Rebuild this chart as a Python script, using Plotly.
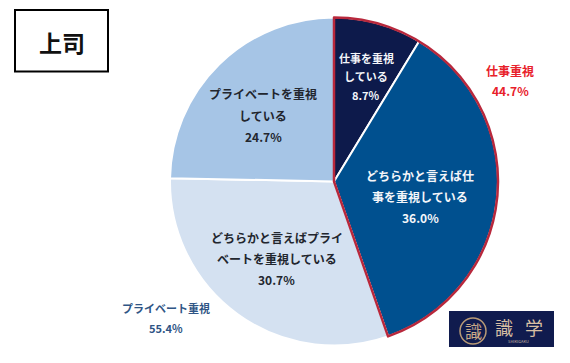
import plotly.graph_objects as go

W, H = 570, 363
categories = ["仕事を重視<br>している", "どちらかと言えば仕<br>事を重視している",
              "どちらかと言えばプライ<br>ベートを重視している", "プライベートを重視<br>している"]
values = [8.7, 36.0, 30.7, 24.7]
colors = ["#0D1A4B", "#00508F", "#D4E1F1", "#A6C5E6"]
group_names = ["仕事重視", "プライベート重視"]
group_values = [44.7, 55.4]
title = "上司"
FONT = "Noto Sans CJK JP"

def px(x): return x / W
def py(y): return 1 - y / H

cx, cy, r = 334, 181.5, 164
domain = dict(x=[px(cx - r), px(cx + r)], y=[py(cy + r), py(cy - r)])

fig = go.Figure()
fig.add_trace(go.Pie(values=values, labels=categories, sort=False, direction="clockwise", rotation=0,
                     domain=domain, textinfo="none", hoverinfo="label+percent",
                     marker=dict(colors=colors, line=dict(color="white", width=2)), showlegend=False))
fig.add_trace(go.Pie(values=group_values, labels=group_names, sort=False, direction="clockwise", rotation=0,
                     domain=domain, textinfo="none", hoverinfo="skip",
                     marker=dict(colors=["rgba(0,0,0,0)", "rgba(0,0,0,0)"],
                                 line=dict(color=["#B8283C", "rgba(0,0,0,0)"], width=[2.5, 0])),
                     showlegend=False))

def note(x, y, text, color, size=12, bold=True):
    fig.add_annotation(x=px(x), y=py(y), xref="paper", yref="paper", showarrow=False,
                       text=f"<b>{text}</b>" if bold else text, align="center",
                       font=dict(family=FONT, size=size, color=color), xanchor="center", yanchor="middle")

pct = lambda v: f"{v:.1f}%"
def slice_note(x, y, i, color, gap, size=12):
    lines = categories[i].split("<br>")
    for j, t in enumerate(lines + [pct(values[i])]):
        note(x, y + j * gap, t, color, size)

slice_note(366, 58, 0, "#F4F6FA", 18.5, 11)
slice_note(420, 175, 1, "#F4F6FA", 21)
slice_note(276.5, 237, 2, "#22262E", 21)
slice_note(263, 94, 3, "#22262E", 21.5)

note(510, 71, group_names[0], "#E8202A", 12)
note(510, 91, pct(group_values[0]), "#E8202A", 12)
note(166, 308, group_names[1], "#2F5585", 11)
note(166, 328, pct(group_values[1]), "#2F5585", 11)

note(62, 42, title, "#111111", 23)

shapes = [
    dict(type="rect", xref="paper", yref="paper", x0=px(15), x1=px(108), y0=py(71.5), y1=py(10),
         line=dict(color="black", width=2), fillcolor="white"),
    dict(type="rect", xref="paper", yref="paper", x0=px(449), x1=px(554), y0=py(347), y1=py(311),
         line=dict(width=0), fillcolor="#101B4E"),
    dict(type="circle", xref="paper", yref="paper", x0=px(460), x1=px(486), y0=py(344), y1=py(318),
         line=dict(color="#B89A76", width=1.5), fillcolor="rgba(0,0,0,0)"),
]
note(473, 330.5, "識", "#C9A987", 17, False)
note(503.5, 327, "識", "#D8BFA3", 18, False)
note(533.5, 327, "学", "#D8BFA3", 18, False)
note(518, 341, "SHIKIGAKU", "#C9B8A5", 4, False)

fig.update_layout(width=W, height=H, margin=dict(l=0, r=0, t=0, b=0), paper_bgcolor="white",
                  plot_bgcolor="white", shapes=shapes, font=dict(family=FONT))
fig.write_html("out.html", config=dict(displayModeBar=False),
               post_script="document.body.style.margin='0';document.body.style.overflow='hidden';")
